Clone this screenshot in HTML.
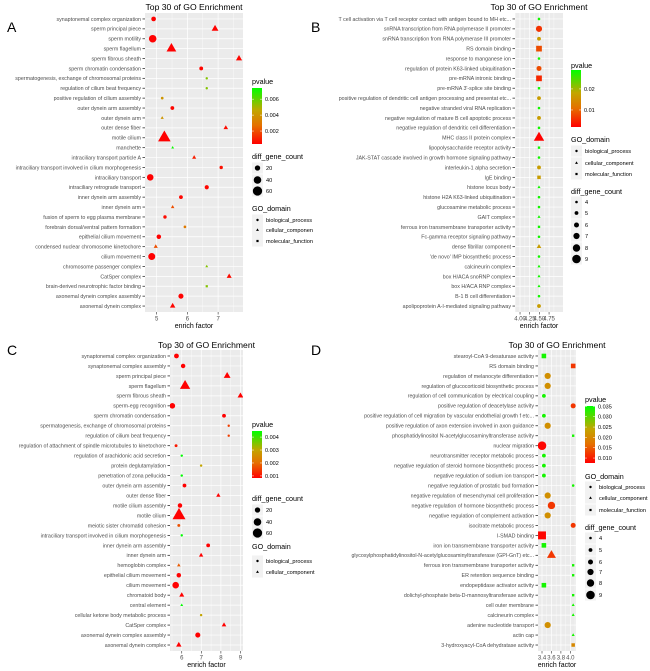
<!DOCTYPE html>
<html><head><meta charset="utf-8"><style>
html,body{margin:0;padding:0;background:#fff}
svg{display:block;font-family:"Liberation Sans",sans-serif}
</style></head><body>
<svg id="chart" width="650" height="671" viewBox="0 0 650 671" xmlns="http://www.w3.org/2000/svg">
<defs>
<linearGradient id="gradP" x1="0" y1="1" x2="0" y2="0">
<stop offset="0" stop-color="#ff0000"/><stop offset="0.33" stop-color="#e57000"/><stop offset="0.6" stop-color="#c2a600"/><stop offset="1" stop-color="#00ff00"/>
</linearGradient>
</defs>
</svg>
<script>
// ---------- Panel A data ----------
const aTerms=["synaptonemal complex organization","sperm principal piece","sperm motility","sperm flagellum","sperm fibrous sheath","sperm chromatin condensation","spermatogenesis, exchange of chromosomal proteins","regulation of cilium beat frequency","positive regulation of cilium assembly","outer dynein arm assembly","outer dynein arm","outer dense fiber","motile cilium","manchette","intraciliary transport particle A","intraciliary transport involved in cilium morphogenesis","intraciliary transport","intraciliary retrograde transport","inner dynein arm assembly","inner dynein arm","fusion of sperm to egg plasma membrane","forebrain dorsal/ventral pattern formation","epithelial cilium movement","condensed nuclear chromosome kinetochore","cilium movement","chromosome passenger complex","CatSper complex","brain-derived neurotrophic factor binding","axonemal dynein complex assembly","axonemal dynein complex"];
const aEnrich=[4.90,6.90,4.87,5.48,7.68,6.45,6.63,6.63,5.18,5.51,5.18,7.25,5.25,5.52,6.22,7.10,4.79,6.63,5.79,5.52,5.27,5.92,5.07,4.97,4.84,6.63,7.36,6.63,5.79,5.52];
const aP=[0.0004,0.0004,0.0003,0.0003,0.0005,0.0005,0.0055,0.0055,0.004,0.0005,0.004,0.0006,0.0002,0.0072,0.001,0.0007,0.0003,0.0005,0.0005,0.002,0.0006,0.003,0.0004,0.002,0.0003,0.0055,0.0006,0.0055,0.0004,0.0005];
const aCount=[15,22,40,45,18,10,4,4,5,10,5,10,75,4,8,8,30,12,10,6,8,5,14,8,34,4,12,4,18,14];
const aDom=["b","c","b","c","c","b","b","b","b","b","c","c","c","c","c","b","b","b","b","c","b","b","b","c","b","c","c","m","b","c"];
const aTicks=[5,6,7];
const aPTicks=[0.002,0.004,0.006];
// ---------- Panel B data ----------
const bTerms=["T cell activation via T cell receptor contact with antigen bound to MH etc...","snRNA transcription from RNA polymerase II promoter","snRNA transcription from RNA polymerase III promoter","RS domain binding","response to manganese ion","regulation of protein K63-linked ubiquitination","pre-mRNA intronic binding","pre-mRNA 3'-splice site binding","positive regulation of dendritic cell antigen processing and presentat etc...","negative stranded viral RNA replication","negative regulation of mature B cell apoptotic process","negative regulation of dendritic cell differentiation","MHC class II protein complex","lipopolysaccharide receptor activity","JAK-STAT cascade involved in growth hormone signaling pathway","interleukin-1 alpha secretion","IgE binding","histone locus body","histone H2A K63-linked ubiquitination","glucosamine metabolic process","GAIT complex","ferrous iron transmembrane transporter activity","Fc-gamma receptor signaling pathway","dense fibrillar component","'de novo' IMP biosynthetic process","calcineurin complex","box H/ACA snoRNP complex","box H/ACA RNP complex","B-1 B cell differentiation","apolipoprotein A-I-mediated signaling pathway"];
const bEnrich=[4.49,4.49,4.49,4.49,4.49,4.49,4.49,4.49,4.49,4.49,4.49,4.49,4.49,4.49,4.49,4.49,4.49,4.49,4.49,4.49,4.49,4.49,4.49,4.49,4.49,4.49,4.49,4.49,4.49,4.49];
const bP=[0.028,0.006,0.017,0.008,0.028,0.008,0.005,0.028,0.017,0.028,0.017,0.028,0.002,0.028,0.028,0.017,0.017,0.028,0.028,0.028,0.028,0.028,0.028,0.017,0.028,0.028,0.028,0.028,0.028,0.017];
const bCount=[4,7,5,7,4,6,7,4,5,4,5,4,9,4,4,5,5,4,4,4,4,4,4,5,4,4,4,4,4,5];
const bDom=["b","b","b","m","b","b","m","m","b","b","b","b","c","m","b","b","m","c","b","b","c","m","b","c","b","c","c","c","b","b"];
const bTicks=[4.00,4.25,4.50,4.75];
const bPTicks=[0.01,0.02];
// ---------- Panel C data ----------
const cTerms=["synaptonemal complex organization","synaptonemal complex assembly","sperm principal piece","sperm flagellum","sperm fibrous sheath","sperm-egg recognition","sperm chromatin condensation","spermatogenesis, exchange of chromosomal proteins","regulation of cilium beat frequency","regulation of attachment of spindle microtubules to kinetochore","regulation of arachidonic acid secretion","protein deglutamylation","penetration of zona pellucida","outer dynein arm assembly","outer dense fiber","motile cilium assembly","motile cilium","meiotic sister chromatid cohesion","intraciliary transport involved in cilium morphogenesis","inner dynein arm assembly","inner dynein arm","hemoglobin complex","epithelial cilium movement","cilium movement","chromatoid body","central element","cellular ketone body metabolic process","CatSper complex","axonemal dynein complex assembly","axonemal dynein complex"];
const cEnrich=[5.73,6.07,8.32,6.17,9.0,5.52,8.16,8.40,8.40,5.71,6.0,6.99,6.0,6.14,7.87,5.91,5.86,5.85,6.0,7.35,6.99,5.85,5.85,5.69,6.0,6.0,6.99,8.16,6.82,5.85];
const cP=[0.0002,0.0003,0.0003,0.0002,0.0004,0.0002,0.0004,0.0015,0.0015,0.0011,0.0045,0.003,0.0045,0.0004,0.0005,0.0003,0.0001,0.0017,0.0045,0.0005,0.0006,0.0018,0.0003,0.0002,0.0004,0.0045,0.003,0.0005,0.0003,0.0004];
const cCount=[16,14,22,50,16,22,10,4,4,6,4,4,4,10,9,14,80,6,4,10,9,6,14,30,12,4,4,10,18,14];
const cDom=["b","b","c","c","c","b","b","b","b","b","b","b","b","b","c","b","c","b","b","b","c","c","b","b","c","c","b","c","b","c"];
const cTicks=[6,7,8,9];
const cPTicks=[0.001,0.002,0.003,0.004];
// ---------- Panel D data ----------
const dTerms=["stearoyl-CoA 9-desaturase activity","RS domain binding","regulation of melanocyte differentiation","regulation of glucocorticoid biosynthetic process","regulation of cell communication by electrical coupling","positive regulation of deacetylase activity","positive regulation of cell migration by vascular endothelial growth f etc...","positive regulation of axon extension involved in axon guidance","phosphatidylinositol N-acetylglucosaminyltransferase activity","nuclear migration","neurotransmitter receptor metabolic process","negative regulation of steroid hormone biosynthetic process","negative regulation of sodium ion transport","negative regulation of prostatic bud formation","negative regulation of mesenchymal cell proliferation","negative regulation of hormone biosynthetic process","negative regulation of complement activation","isocitrate metabolic process","I-SMAD binding","iron ion transmembrane transporter activity","glycosylphosphatidylinositol-N-acetylglucosaminyltransferase (GPI-GnT) etc...","ferrous iron transmembrane transporter activity","ER retention sequence binding","endopeptidase activator activity","dolichyl-phosphate beta-D-mannosyltransferase activity","cell outer membrane","calcineurin complex","adenine nucleotide transport","actin cap","3-hydroxyacyl-CoA dehydratase activity"];
const dEnrich=[3.44,4.06,3.52,3.52,3.44,4.06,3.44,3.52,4.06,3.40,3.44,3.44,3.44,4.06,3.52,3.60,3.52,4.06,3.40,3.44,3.60,4.06,4.06,3.44,4.06,4.06,4.06,3.52,4.06,4.06];
const dP=[0.034,0.012,0.021,0.021,0.034,0.012,0.034,0.021,0.034,0.008,0.034,0.034,0.034,0.034,0.021,0.012,0.021,0.012,0.008,0.034,0.012,0.034,0.034,0.034,0.034,0.034,0.034,0.021,0.034,0.020];
const dCount=[6,6,7,7,5,6,5,7,4,9,5,5,5,4,7,8,7,6,9,6,8,4,4,6,4,4,4,7,4,5];
const dDom=["m","m","b","b","b","b","b","b","m","b","b","b","b","b","b","b","b","b","m","m","c","m","m","m","m","c","c","b","c","m"];
const dTicks=[3.4,3.6,3.8,4.0];
const dPTicks=[0.010,0.015,0.020,0.025,0.030,0.035];

const NS="http://www.w3.org/2000/svg";
const svg=document.getElementById('chart');
function mk(parent,tag,attrs,text){const e=document.createElementNS(NS,tag);for(const k in attrs)e.setAttribute(k,attrs[k]);if(text!==undefined)e.textContent=text;parent.appendChild(e);return e;}
function lerp(a,b,t){return a+(b-a)*t;}
const stops=[[0,[255,0,0]],[0.33,[229,112,0]],[0.6,[194,166,0]],[1,[0,255,0]]];
function colorAt(t){t=Math.max(0,Math.min(1,t));for(let i=1;i<stops.length;i++){if(t<=stops[i][0]){const s=stops[i-1],e=stops[i];const u=(t-s[0])/(e[0]-s[0]);return 'rgb('+s[1].map((v,j)=>Math.round(lerp(v,e[1][j],u))).join(',')+')';}}return 'rgb(0,255,0)';}
function shape(g,dom,cx,cy,r,fill){
  let e;
  if(dom==='c'){const R=r*1.4;e=mk(g,'polygon',{points:[cx+','+(cy-R),(cx+R*0.866)+','+(cy+R*0.5),(cx-R*0.866)+','+(cy+R*0.5)].join(' '),fill:fill});}
  else if(dom==='m'){const h=r*0.92;e=mk(g,'rect',{x:cx-h,y:cy-h,width:2*h,height:2*h,fill:fill});}
  else e=mk(g,'circle',{cx:cx,cy:cy,r:r,fill:fill});
  return e;
}
function drawPanel(id,cfg,terms,enrich,pv,cnt,dom,ticks,pticks){
  const g=mk(svg,'g',{});
  
  
  const xs=v=>cfg.x0+(v-cfg.xmin)/(cfg.xmax-cfg.xmin)*(cfg.x1-cfg.x0);
  const n=terms.length;const unit=(cfg.y1-cfg.y0)/(n-1+1.2);
  const ys=i=>cfg.y0+unit*(0.6+i);
  const bg=mk(g,'rect',{x:cfg.x0,y:cfg.y0,width:cfg.x1-cfg.x0,height:cfg.y1-cfg.y0,fill:'#ebebeb'});
  
  
  const step=ticks[1]-ticks[0];
  for(let k=-1;k<ticks.length+1;k++){const mv=ticks[0]+step*(k+0.5);const x=xs(mv);if(x>cfg.x0&&x<cfg.x1){const l=mk(g,'line',{x1:x,x2:x,y1:cfg.y0,y2:cfg.y1,stroke:'#fff','stroke-width':0.35});}}
  ticks.forEach(t=>{const x=xs(t);
    const l=mk(g,'line',{x1:x,x2:x,y1:cfg.y0,y2:cfg.y1,stroke:'#fff','stroke-width':0.7});
    
    
    mk(g,'line',{x1:x,x2:x,y1:cfg.y1,y2:cfg.y1+2.5,stroke:'#333','stroke-width':0.6});
    const tl=mk(g,'text',{x:x,y:cfg.y1+8.5,'font-size':6,fill:'#4d4d4d','text-anchor':'middle'},cfg.fmt(t));
    
    
  });
  terms.forEach((t,i)=>{const y=ys(i);
    const l=mk(g,'line',{x1:cfg.x0,x2:cfg.x1,y1:y,y2:y,stroke:'#fff','stroke-width':0.7});
    
    
    mk(g,'line',{x1:cfg.x0-2.5,x2:cfg.x0,y1:y,y2:y,stroke:'#333','stroke-width':0.8});
    const tl=mk(g,'text',{x:cfg.x0-4,y:y+1.9,'font-size':5.3,fill:'#4d4d4d','text-anchor':'end'},t);
    
    
  });
  const cp=mk(svg,'clipPath',{id:'clip'+id});mk(cp,'rect',{x:cfg.x0,y:cfg.y0,width:cfg.x1-cfg.x0,height:cfg.y1-cfg.y0});
  const pg=mk(g,'g',{'clip-path':'url(#clip'+id+')'});
  
  
  terms.forEach((t,i)=>{
    const col=colorAt((pv[i]-cfg.pLo)/(cfg.pHi-cfg.pLo));
    const e=shape(pg,dom[i],xs(enrich[i]),ys(i),cfg.rf(cnt[i]),col);
    
    
  });
  const cxm=(cfg.x0+cfg.x1)/2;
  const ti=mk(g,'text',{x:cxm,y:cfg.titleY,'font-size':8.6,fill:'#000','text-anchor':'middle'},'Top 30 of GO Enrichment');
  
  
  const xt=mk(g,'text',{x:cxm,y:cfg.y1+16,'font-size':7,fill:'#000','text-anchor':'middle'},'enrich factor');
  
  
  const pl=mk(g,'text',{x:cfg.letterX,y:cfg.letterY,'font-size':14,fill:'#000'},id);
  
  
  // legends
  const L=cfg.leg;
  const lg=mk(g,'g',{});
  
  
  const pt=mk(lg,'text',{x:L.x,y:L.pTitle,'font-size':7.2,fill:'#000'},'pvalue');
  
  
  const bar=mk(lg,'rect',{x:L.x,y:L.barTop,width:10,height:L.barBot-L.barTop,fill:'url(#gradP)'});
  
  
  pticks.forEach(p=>{const y=L.barBot-(p-cfg.pLo)/(cfg.pHi-cfg.pLo)*(L.barBot-L.barTop);
    mk(lg,'line',{x1:L.x,x2:L.x+2,y1:y,y2:y,stroke:'#fff','stroke-width':0.5});
    mk(lg,'line',{x1:L.x+8,x2:L.x+10,y1:y,y2:y,stroke:'#fff','stroke-width':0.5});
    const tl=mk(lg,'text',{x:L.x+13,y:y+2,'font-size':5.5,fill:'#000'},cfg.pfmt(p));
    
    
  });
  const st=mk(lg,'text',{x:L.x,y:L.sTitle,'font-size':7.2,fill:'#000'},'diff_gene_count');
  
  
  L.sizes.forEach((s,k)=>{const y=L.sY[k];
    mk(lg,'rect',{x:L.x,y:y-5.5,width:11,height:11,fill:'#f2f2f2'});
    const c=mk(lg,'circle',{cx:L.x+5.5,cy:y,r:cfg.rf(s),fill:'#000'});
    
    
    const tl=mk(lg,'text',{x:L.x+14,y:y+2,'font-size':5.6,fill:'#000'},String(s));
    
    
  });
  const gt=mk(lg,'text',{x:L.x,y:L.gTitle,'font-size':7.2,fill:'#000'},'GO_domain');
  
  
  L.doms.forEach((d,k)=>{const y=L.gY[k];
    mk(lg,'rect',{x:L.x,y:y-5.5,width:11,height:11,fill:'#f2f2f2'});
    const s=shape(lg,d[0],L.x+5.5,y,1.2,'#000');
    
    
    const tl=mk(lg,'text',{x:L.x+14,y:y+2,'font-size':5.6,fill:'#000'},d[1]);
    
    
  });
}
const rBig=c=>0.6*Math.sqrt(c);
const rSmall=c=>1.3+(c-4)*0.6;
const D3=[["b","biological_process"],["c","cellular_componen"],["m","molecular_function"]];
const D3b=[["b","biological_process"],["c","cellular_component"],["m","molecular_function"]];
drawPanel('A',{x0:145,x1:243,y0:13,y1:312,xmin:4.62,xmax:7.81,fmt:v=>String(v),pLo:0.000375,pHi:0.0074,pfmt:p=>p.toFixed(3),rf:rBig,titleY:10,letterX:7,letterY:32,
  leg:{x:252,pTitle:84,barTop:88,barBot:144,sTitle:159,sizes:[20,40,60],sY:[168,180,191],gTitle:211,doms:D3,gY:[220,230,241]}},aTerms,aEnrich,aP,aCount,aDom,aTicks,aPTicks);
drawPanel('B',{x0:515,x1:563,y0:13,y1:312,xmin:3.87,xmax:5.11,fmt:v=>v.toFixed(2),pLo:0.0019,pHi:0.029,pfmt:p=>p.toFixed(2),rf:rSmall,titleY:10,letterX:311,letterY:32,
  leg:{x:571,pTitle:68,barTop:70,barBot:127,sTitle:194,sizes:[4,5,6,7,8,9],sY:[202,213,225,236,248,259],gTitle:142,doms:D3b,gY:[151,163,174]}},bTerms,bEnrich,bP,bCount,bDom,bTicks,bPTicks);
drawPanel('C',{x0:170,x1:243,y0:350,y1:651,xmin:5.40,xmax:9.13,fmt:v=>String(v),pLo:0.00084,pHi:0.00447,pfmt:p=>p.toFixed(3),rf:rBig,titleY:348,letterX:7,letterY:355,
  leg:{x:252,pTitle:427,barTop:431,barBot:478,sTitle:501,sizes:[20,40,60],sY:[510,522,533],gTitle:549,doms:D3b.slice(0,2),gY:[561,572]}},cTerms,cEnrich,cP,cCount,cDom,cTicks,cPTicks);
drawPanel('D',{x0:538,x1:576,y0:350,y1:651,xmin:3.315,xmax:4.12,fmt:v=>v.toFixed(1),pLo:0.0076,pHi:0.0352,pfmt:p=>p.toFixed(3),rf:rSmall,titleY:348,letterX:311,letterY:355,
  leg:{x:585,pTitle:402,barTop:406,barBot:463,sTitle:530,sizes:[4,5,6,7,8,9],sY:[538,550,562,572,583,595],gTitle:479,doms:D3b,gY:[487,498,510]}},dTerms,dEnrich,dP,dCount,dDom,dTicks,dPTicks);
</script>
</body></html>
